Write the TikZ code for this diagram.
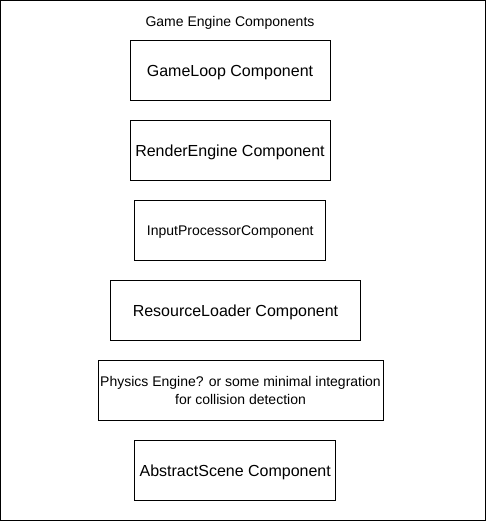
\documentclass[tikz,border=0pt]{standalone}
\usepackage{fontspec}
\setmainfont{Liberation Sans}
\begin{document}
\begin{tikzpicture}[x=0.75pt,y=-0.75pt,
  comp/.style={draw=black, line width=0.75pt, inner sep=0pt, minimum height=45pt,
    text depth=0pt, align=center, font=\fontsize{12pt}{13.5pt}\selectfont},
  small/.style={font=\fontsize{10.5pt}{13.2pt}\selectfont}]
\useasboundingbox (0,0) rectangle (486,521);
\node[draw=black, line width=0.75pt, inner sep=0pt, minimum width=363.5pt, minimum height=389.6pt] (frame) at (243.2,260.5) {};
\node[small, inner sep=0pt, text depth=0pt] (title) at (230,21) {Game Engine Components};
\node[comp, minimum width=150pt] (gl) at (230,70.5) {GameLoop Component};
\node[comp, minimum width=150pt] (re) at (230,150.5) {RenderEngine Component};
\node[comp, small, minimum width=142.9pt] (ip) at (230.25,230.5) {InputProcessorComponent};
\node[comp, minimum width=187.5pt] (rl) at (235.5,310.5) {ResourceLoader Component};
\node[comp, small, minimum width=213.75pt] (pe) at (240.5,390.5) {Physics Engine? or some minimal integration\\for collision detection};
\node[comp, minimum width=150.4pt] (as) at (235.25,470.5) {AbstractScene Component};
\end{tikzpicture}
\end{document}
